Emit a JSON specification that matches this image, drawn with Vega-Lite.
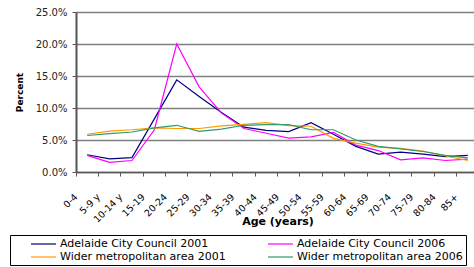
{
  "$schema": "https://vega.github.io/schema/vega-lite/v6.json",
  "width": 403,
  "height": 160,
  "autosize": {"type": "none"},
  "padding": {"left": 76, "top": 12, "right": 0, "bottom": 95},
  "background": "white",
  "config": {
    "view": {"stroke": null},
    "font": "DejaVu Sans"
  },
  "data": {
    "values": [
      {"age": "0-4", "series": "Adelaide City Council 2001", "pct": 2.7},
      {"age": "5-9 y", "series": "Adelaide City Council 2001", "pct": 2.05},
      {"age": "10-14 y", "series": "Adelaide City Council 2001", "pct": 2.25},
      {"age": "15-19", "series": "Adelaide City Council 2001", "pct": 8.3},
      {"age": "20-24", "series": "Adelaide City Council 2001", "pct": 14.4},
      {"age": "25-29", "series": "Adelaide City Council 2001", "pct": 11.8},
      {"age": "30-34", "series": "Adelaide City Council 2001", "pct": 9.3},
      {"age": "35-39", "series": "Adelaide City Council 2001", "pct": 7.0},
      {"age": "40-44", "series": "Adelaide City Council 2001", "pct": 6.5},
      {"age": "45-49", "series": "Adelaide City Council 2001", "pct": 6.3},
      {"age": "50-54", "series": "Adelaide City Council 2001", "pct": 7.7},
      {"age": "55-59", "series": "Adelaide City Council 2001", "pct": 5.9},
      {"age": "60-64", "series": "Adelaide City Council 2001", "pct": 4.0},
      {"age": "65-69", "series": "Adelaide City Council 2001", "pct": 2.8},
      {"age": "70-74", "series": "Adelaide City Council 2001", "pct": 3.1},
      {"age": "75-79", "series": "Adelaide City Council 2001", "pct": 2.8},
      {"age": "80-84", "series": "Adelaide City Council 2001", "pct": 2.4},
      {"age": "85+", "series": "Adelaide City Council 2001", "pct": 2.6},
      {"age": "0-4", "series": "Adelaide City Council 2006", "pct": 2.6},
      {"age": "5-9 y", "series": "Adelaide City Council 2006", "pct": 1.5},
      {"age": "10-14 y", "series": "Adelaide City Council 2006", "pct": 1.8},
      {"age": "15-19", "series": "Adelaide City Council 2006", "pct": 6.6},
      {"age": "20-24", "series": "Adelaide City Council 2006", "pct": 20.0},
      {"age": "25-29", "series": "Adelaide City Council 2006", "pct": 13.3},
      {"age": "30-34", "series": "Adelaide City Council 2006", "pct": 9.2},
      {"age": "35-39", "series": "Adelaide City Council 2006", "pct": 6.8},
      {"age": "40-44", "series": "Adelaide City Council 2006", "pct": 6.05},
      {"age": "45-49", "series": "Adelaide City Council 2006", "pct": 5.3},
      {"age": "50-54", "series": "Adelaide City Council 2006", "pct": 5.5},
      {"age": "55-59", "series": "Adelaide City Council 2006", "pct": 6.2},
      {"age": "60-64", "series": "Adelaide City Council 2006", "pct": 4.2},
      {"age": "65-69", "series": "Adelaide City Council 2006", "pct": 3.35},
      {"age": "70-74", "series": "Adelaide City Council 2006", "pct": 1.9},
      {"age": "75-79", "series": "Adelaide City Council 2006", "pct": 2.2},
      {"age": "80-84", "series": "Adelaide City Council 2006", "pct": 1.8},
      {"age": "85+", "series": "Adelaide City Council 2006", "pct": 2.0},
      {"age": "0-4", "series": "Wider metropolitan area 2001", "pct": 5.9},
      {"age": "5-9 y", "series": "Wider metropolitan area 2001", "pct": 6.4},
      {"age": "10-14 y", "series": "Wider metropolitan area 2001", "pct": 6.6},
      {"age": "15-19", "series": "Wider metropolitan area 2001", "pct": 6.9},
      {"age": "20-24", "series": "Wider metropolitan area 2001", "pct": 6.8},
      {"age": "25-29", "series": "Wider metropolitan area 2001", "pct": 6.8},
      {"age": "30-34", "series": "Wider metropolitan area 2001", "pct": 7.2},
      {"age": "35-39", "series": "Wider metropolitan area 2001", "pct": 7.45},
      {"age": "40-44", "series": "Wider metropolitan area 2001", "pct": 7.7},
      {"age": "45-49", "series": "Wider metropolitan area 2001", "pct": 7.25},
      {"age": "50-54", "series": "Wider metropolitan area 2001", "pct": 7.15},
      {"age": "55-59", "series": "Wider metropolitan area 2001", "pct": 5.25},
      {"age": "60-64", "series": "Wider metropolitan area 2001", "pct": 4.5},
      {"age": "65-69", "series": "Wider metropolitan area 2001", "pct": 3.9},
      {"age": "70-74", "series": "Wider metropolitan area 2001", "pct": 3.7},
      {"age": "75-79", "series": "Wider metropolitan area 2001", "pct": 3.25},
      {"age": "80-84", "series": "Wider metropolitan area 2001", "pct": 2.5},
      {"age": "85+", "series": "Wider metropolitan area 2001", "pct": 1.8},
      {"age": "0-4", "series": "Wider metropolitan area 2006", "pct": 5.7},
      {"age": "5-9 y", "series": "Wider metropolitan area 2006", "pct": 6.0},
      {"age": "10-14 y", "series": "Wider metropolitan area 2006", "pct": 6.25},
      {"age": "15-19", "series": "Wider metropolitan area 2006", "pct": 6.9},
      {"age": "20-24", "series": "Wider metropolitan area 2006", "pct": 7.3},
      {"age": "25-29", "series": "Wider metropolitan area 2006", "pct": 6.35},
      {"age": "30-34", "series": "Wider metropolitan area 2006", "pct": 6.7},
      {"age": "35-39", "series": "Wider metropolitan area 2006", "pct": 7.3},
      {"age": "40-44", "series": "Wider metropolitan area 2006", "pct": 7.4},
      {"age": "45-49", "series": "Wider metropolitan area 2006", "pct": 7.4},
      {"age": "50-54", "series": "Wider metropolitan area 2006", "pct": 6.6},
      {"age": "55-59", "series": "Wider metropolitan area 2006", "pct": 6.6},
      {"age": "60-64", "series": "Wider metropolitan area 2006", "pct": 5.0},
      {"age": "65-69", "series": "Wider metropolitan area 2006", "pct": 4.0},
      {"age": "70-74", "series": "Wider metropolitan area 2006", "pct": 3.6},
      {"age": "75-79", "series": "Wider metropolitan area 2006", "pct": 3.2},
      {"age": "80-84", "series": "Wider metropolitan area 2006", "pct": 2.6},
      {"age": "85+", "series": "Wider metropolitan area 2006", "pct": 2.2}
    ]
  },
  "mark": {"type": "line", "strokeWidth": 1.2},
  "encoding": {
    "x": {
      "field": "age",
      "type": "ordinal",
      "sort": null,
      "scale": {"type": "band", "paddingInner": 0, "paddingOuter": 0},
      "axis": {
        "title": "Age (years)",
        "titleFont": "DejaVu Sans",
        "titleFontSize": 11,
        "titleFontWeight": "bold",
        "titleColor": "black",
        "titlePadding": -8,
        "labelAngle": -45,
        "labelAlign": "right",
        "labelBaseline": "middle",
        "labelFontSize": 9.5,
        "labelColor": "black",
        "labelPadding": 19,
        "labelOffset": -11,
        "bandPosition": 0,
        "tickSize": 4,
        "tickColor": "#555555",
        "domainColor": "#555555",
        "domainWidth": 1.5,
        "grid": false
      }
    },
    "y": {
      "field": "pct",
      "type": "quantitative",
      "scale": {"domain": [0, 25], "nice": false},
      "axis": {
        "title": "Percent",
        "titleFontSize": 9,
        "titleFontWeight": "bold",
        "titleColor": "black",
        "titlePadding": 11,
        "values": [0, 5, 10, 15, 20, 25],
        "labelExpr": "format(datum.value, '.1f') + '%'",
        "labelFontSize": 10,
        "labelColor": "#222222",
        "labelPadding": 5,
        "tickSize": 4,
        "tickColor": "#555555",
        "domainColor": "#555555",
        "domainWidth": 2,
        "grid": true,
        "gridColor": "#808080",
        "gridWidth": 1.3
      }
    },
    "color": {
      "field": "series",
      "type": "nominal",
      "scale": {
        "domain": ["Adelaide City Council 2001", "Adelaide City Council 2006", "Wider metropolitan area 2001", "Wider metropolitan area 2006"],
        "range": ["#000080", "#FF00FF", "#FF9900", "#339966"]
      },
      "legend": {
        "title": null,
        "orient": "none",
        "legendX": -66,
        "legendY": 223,
        "columns": 2,
        "direction": "horizontal",
        "symbolType": "M-2.5,0H2.5",
        "symbolSize": 100,
        "symbolStrokeWidth": 1.2,
        "symbolOffset": 24.5,
        "labelOffset": 10.5,
        "labelFontSize": 11,
        "labelColor": "black",
        "labelLimit": 300,
        "columnPadding": 24,
        "rowPadding": 2,
        "padding": 3,
        "strokeColor": "black",
        "fillColor": "white"
      }
    }
  }
}
